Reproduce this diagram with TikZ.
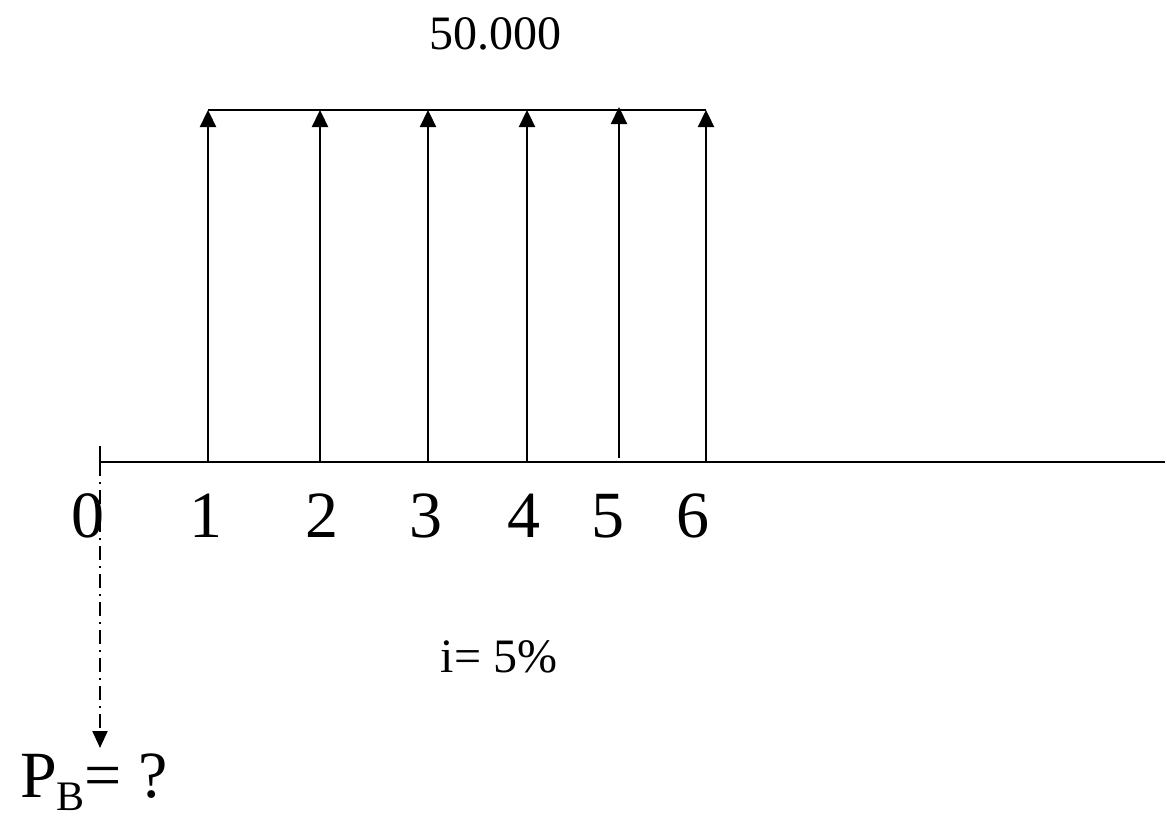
\documentclass[tikz,border=0pt]{standalone}
\usepackage{fontspec}
\setmainfont{Liberation Serif}
\usetikzlibrary{arrows.meta}

\begin{document}
\begin{tikzpicture}[x=1pt, y=-1pt,
    flow/.style={line width=2.3pt, -{Triangle[width=16pt,length=17pt]}},
    axis/.style={line width=2pt},
    big/.style={font=\fontsize{66}{70}\selectfont, anchor=base, inner sep=0pt},
    small/.style={font=\fontsize{48}{54}\selectfont, anchor=base, inner sep=0pt}]
    \useasboundingbox (0,0) rectangle (1167,816);

    % time axis
    \coordinate (tick) at (100, 446);
    \coordinate (t0) at (100, 462);
    \coordinate (end) at (1165, 462);
    \draw[axis] (t0) -- (end);
    \draw[axis] (tick) -- (t0);

    \coordinate (t1) at (208, 462);
    \coordinate (t2) at (320, 462);
    \coordinate (t3) at (428, 462);
    \coordinate (t4) at (527, 462);
    \coordinate (t5) at (619, 458);
    \coordinate (t6) at (706, 462);

    \coordinate (p1) at (208, 110);
    \coordinate (p2) at (320, 110);
    \coordinate (p3) at (428, 110);
    \coordinate (p4) at (527, 110);
    \coordinate (p5) at (619, 107);
    \coordinate (p6) at (706, 110);

    % payments
    \draw[line width=1.4pt] (p1) -- (p6);
    \draw[flow] (t1) to (p1);
    \draw[flow] (t2) to (p2);
    \draw[flow] (t3) to (p3);
    \draw[flow] (t4) to (p4);
    \draw[flow] (t5) to (p5);
    \draw[flow] (t6) to (p6);

    \node[small] (amount) at (495, 49) {50.000};

    % periods
    \node[big] (n0) at (88, 537) {0};
    \node[big] (n1) at (206, 537) {1};
    \node[big] (n2) at (322, 537) {2};
    \node[big] (n3) at (426, 537) {3};
    \node[big] (n4) at (524, 537) {4};
    \node[big] (n5) at (608, 537) {5};
    \node[big] (n6) at (693, 537) {6};

    \node[small] (rate) at (499, 672) {i= 5\%};

    % present value
    \coordinate (pv) at (100, 748);
    \draw[line width=2pt, dash pattern=on 14pt off 6pt on 2pt off 6pt,
        -{Triangle[width=15pt,length=17pt]}] (t0) -- (pv);
    \node[big, anchor=base west] (pb) at (20, 797)
        {P\raisebox{-13pt}{\fontsize{42}{42}\selectfont B}= ?};
\end{tikzpicture}
\end{document}
